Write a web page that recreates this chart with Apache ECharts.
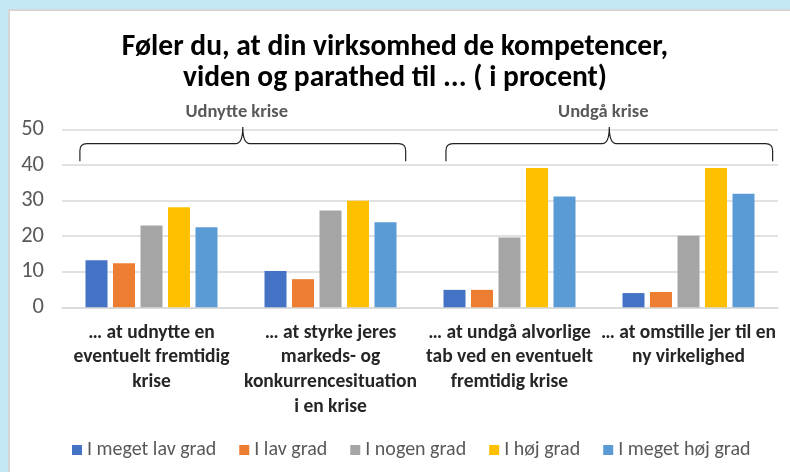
<!DOCTYPE html>
<html>
<head>
<meta charset="utf-8">
<script src="https://cdn.jsdelivr.net/npm/echarts@6/dist/echarts.min.js"></script>
<style>
  html, body { margin: 0; padding: 0; background: #c5e8f7; }
  #panel { position: absolute; left: 8px; top: 9px; width: 782px; height: 463px; background: #ffffff; border-left: 2px solid #d6d6d6; border-top: 2px solid #d6d6d6; box-sizing: border-box; }
  #main { position: absolute; left: 0; top: 0; width: 790px; height: 472px; }
</style>
</head>
<body>
<div id="panel"></div>
<div id="main"></div>
<script>
// ---- data ----
const titleText = 'Føler du, at din virksomhed de kompetencer,\nviden og parathed til ... ( i procent)';
const categories = [
  '… at udnytte en\neventuelt fremtidig\nkrise',
  '… at styrke jeres\nmarkeds- og\nkonkurrencesituation\ni en krise',
  '… at undgå alvorlige\ntab ved en eventuelt\nfremtidig krise',
  '… at omstille jer til en\nny virkelighed'
];
const seriesNames = ['I meget lav grad', 'I lav grad', 'I nogen grad', 'I høj grad', 'I meget høj grad'];
const megetLav = [13.2, 10.2, 4.9, 4.0];
const lav = [12.4, 7.9, 4.9, 4.3];
const nogen = [23.0, 27.2, 19.6, 20.1];
const hoej = [28.1, 29.9, 39.1, 39.1];
const megetHoej = [22.5, 23.9, 31.1, 31.9];
const yTicks = [0, 10, 20, 30, 40, 50];
const braceGroups = [
  { name: 'Udnytte krise', from: 0, to: 1 },
  { name: 'Undgå krise', from: 2, to: 3 }
];

// ---- styling ----
const colors = ['#4472c4', '#ed7d31', '#a5a5a5', '#ffc000', '#5b9bd5'];
const braceOffsets = [[-0.40, 0.42], [-0.355, 0.47]];
const FONT = "Carlito, 'Open Sans', sans-serif";

const chart = echarts.init(document.getElementById('main'), null, { renderer: 'canvas' });

const values = [megetLav, lav, nogen, hoej, megetHoej];
const barSeries = seriesNames.map((n, i) => ({
  name: n,
  type: 'bar',
  data: values[i],
  barWidth: 22,
  barGap: '25%',
  itemStyle: { color: colors[i] },
  z: 3
}));

const braceSeries = {
  type: 'custom',
  name: 'braces',
  silent: true,
  clip: false,
  z: 5,
  data: braceGroups.map(g => [g.from, g.to, 41]),
  encode: { x: [0, 1], y: 2 },
  renderItem: function (params, api) {
    const idx = params.dataIndex;
    const band = api.size([1, 0])[0];
    const p0 = api.coord([api.value(0), api.value(2)]);
    const p1 = api.coord([api.value(1), api.value(2)]);
    const x0 = p0[0] + braceOffsets[idx][0] * band;
    const x1 = p1[0] + braceOffsets[idx][1] * band;
    const yb = p0[1];
    const yh = yb - 17.7;
    const yt = yh - 16.6;
    const xm = (x0 + x1) / 2;
    const r = 7;
    const d = [
      'M', x0, yb,
      'L', x0, yh + r,
      'Q', x0, yh, x0 + r, yh,
      'L', xm - r, yh,
      'Q', xm, yh, xm, yt,
      'Q', xm, yh, xm + r, yh,
      'L', x1 - r, yh,
      'Q', x1, yh, x1, yh + r,
      'L', x1, yb
    ].join(' ');
    return {
      type: 'group',
      children: [
        {
          type: 'path',
          shape: { pathData: d },
          style: { fill: null, stroke: '#222222', lineWidth: 1.2 }
        },
        {
          type: 'text',
          style: {
            text: braceGroups[idx].name,
            x: xm - 6,
            y: yt - 15,
            align: 'center',
            verticalAlign: 'middle',
            font: "bold 18.5px " + FONT,
            fill: '#595959'
          }
        }
      ]
    };
  }
};

chart.setOption({
  animation: false,
  backgroundColor: 'transparent',
  color: colors,
  title: {
    text: titleText,
    left: 'center',
    top: 27,
    textStyle: { fontFamily: FONT, fontWeight: 'bold', fontSize: 29.5, lineHeight: 31, color: '#000000' }
  },
  legend: {
    data: seriesNames,
    left: 72,
    top: 439,
    padding: 0,
    icon: 'rect',
    itemWidth: 10,
    itemHeight: 10,
    itemGap: 23,
    textStyle: { fontFamily: FONT, fontSize: 20, color: '#595959', lineHeight: 22 }
  },
  grid: { left: 62, right: 12, top: 129.3, bottom: 164.7, containLabel: false },
  xAxis: {
    type: 'category',
    data: categories,
    axisLine: { lineStyle: { color: '#d9d9d9', width: 1.5 } },
    axisTick: { show: false },
    axisLabel: {
      interval: 0,
      margin: 13,
      fontFamily: FONT,
      fontWeight: 'bold',
      fontSize: 19.5,
      lineHeight: 24.7,
      color: '#262626'
    }
  },
  yAxis: {
    type: 'value',
    min: yTicks[0],
    max: yTicks[yTicks.length - 1],
    interval: yTicks[1] - yTicks[0],
    axisLine: { show: false },
    axisTick: { show: false },
    splitLine: { lineStyle: { color: '#d9d9d9', width: 1.5 } },
    axisLabel: { margin: 18, fontFamily: FONT, fontSize: 22.5, color: '#595959' }
  },
  series: barSeries.concat([braceSeries])
});
</script>
</body>
</html>
